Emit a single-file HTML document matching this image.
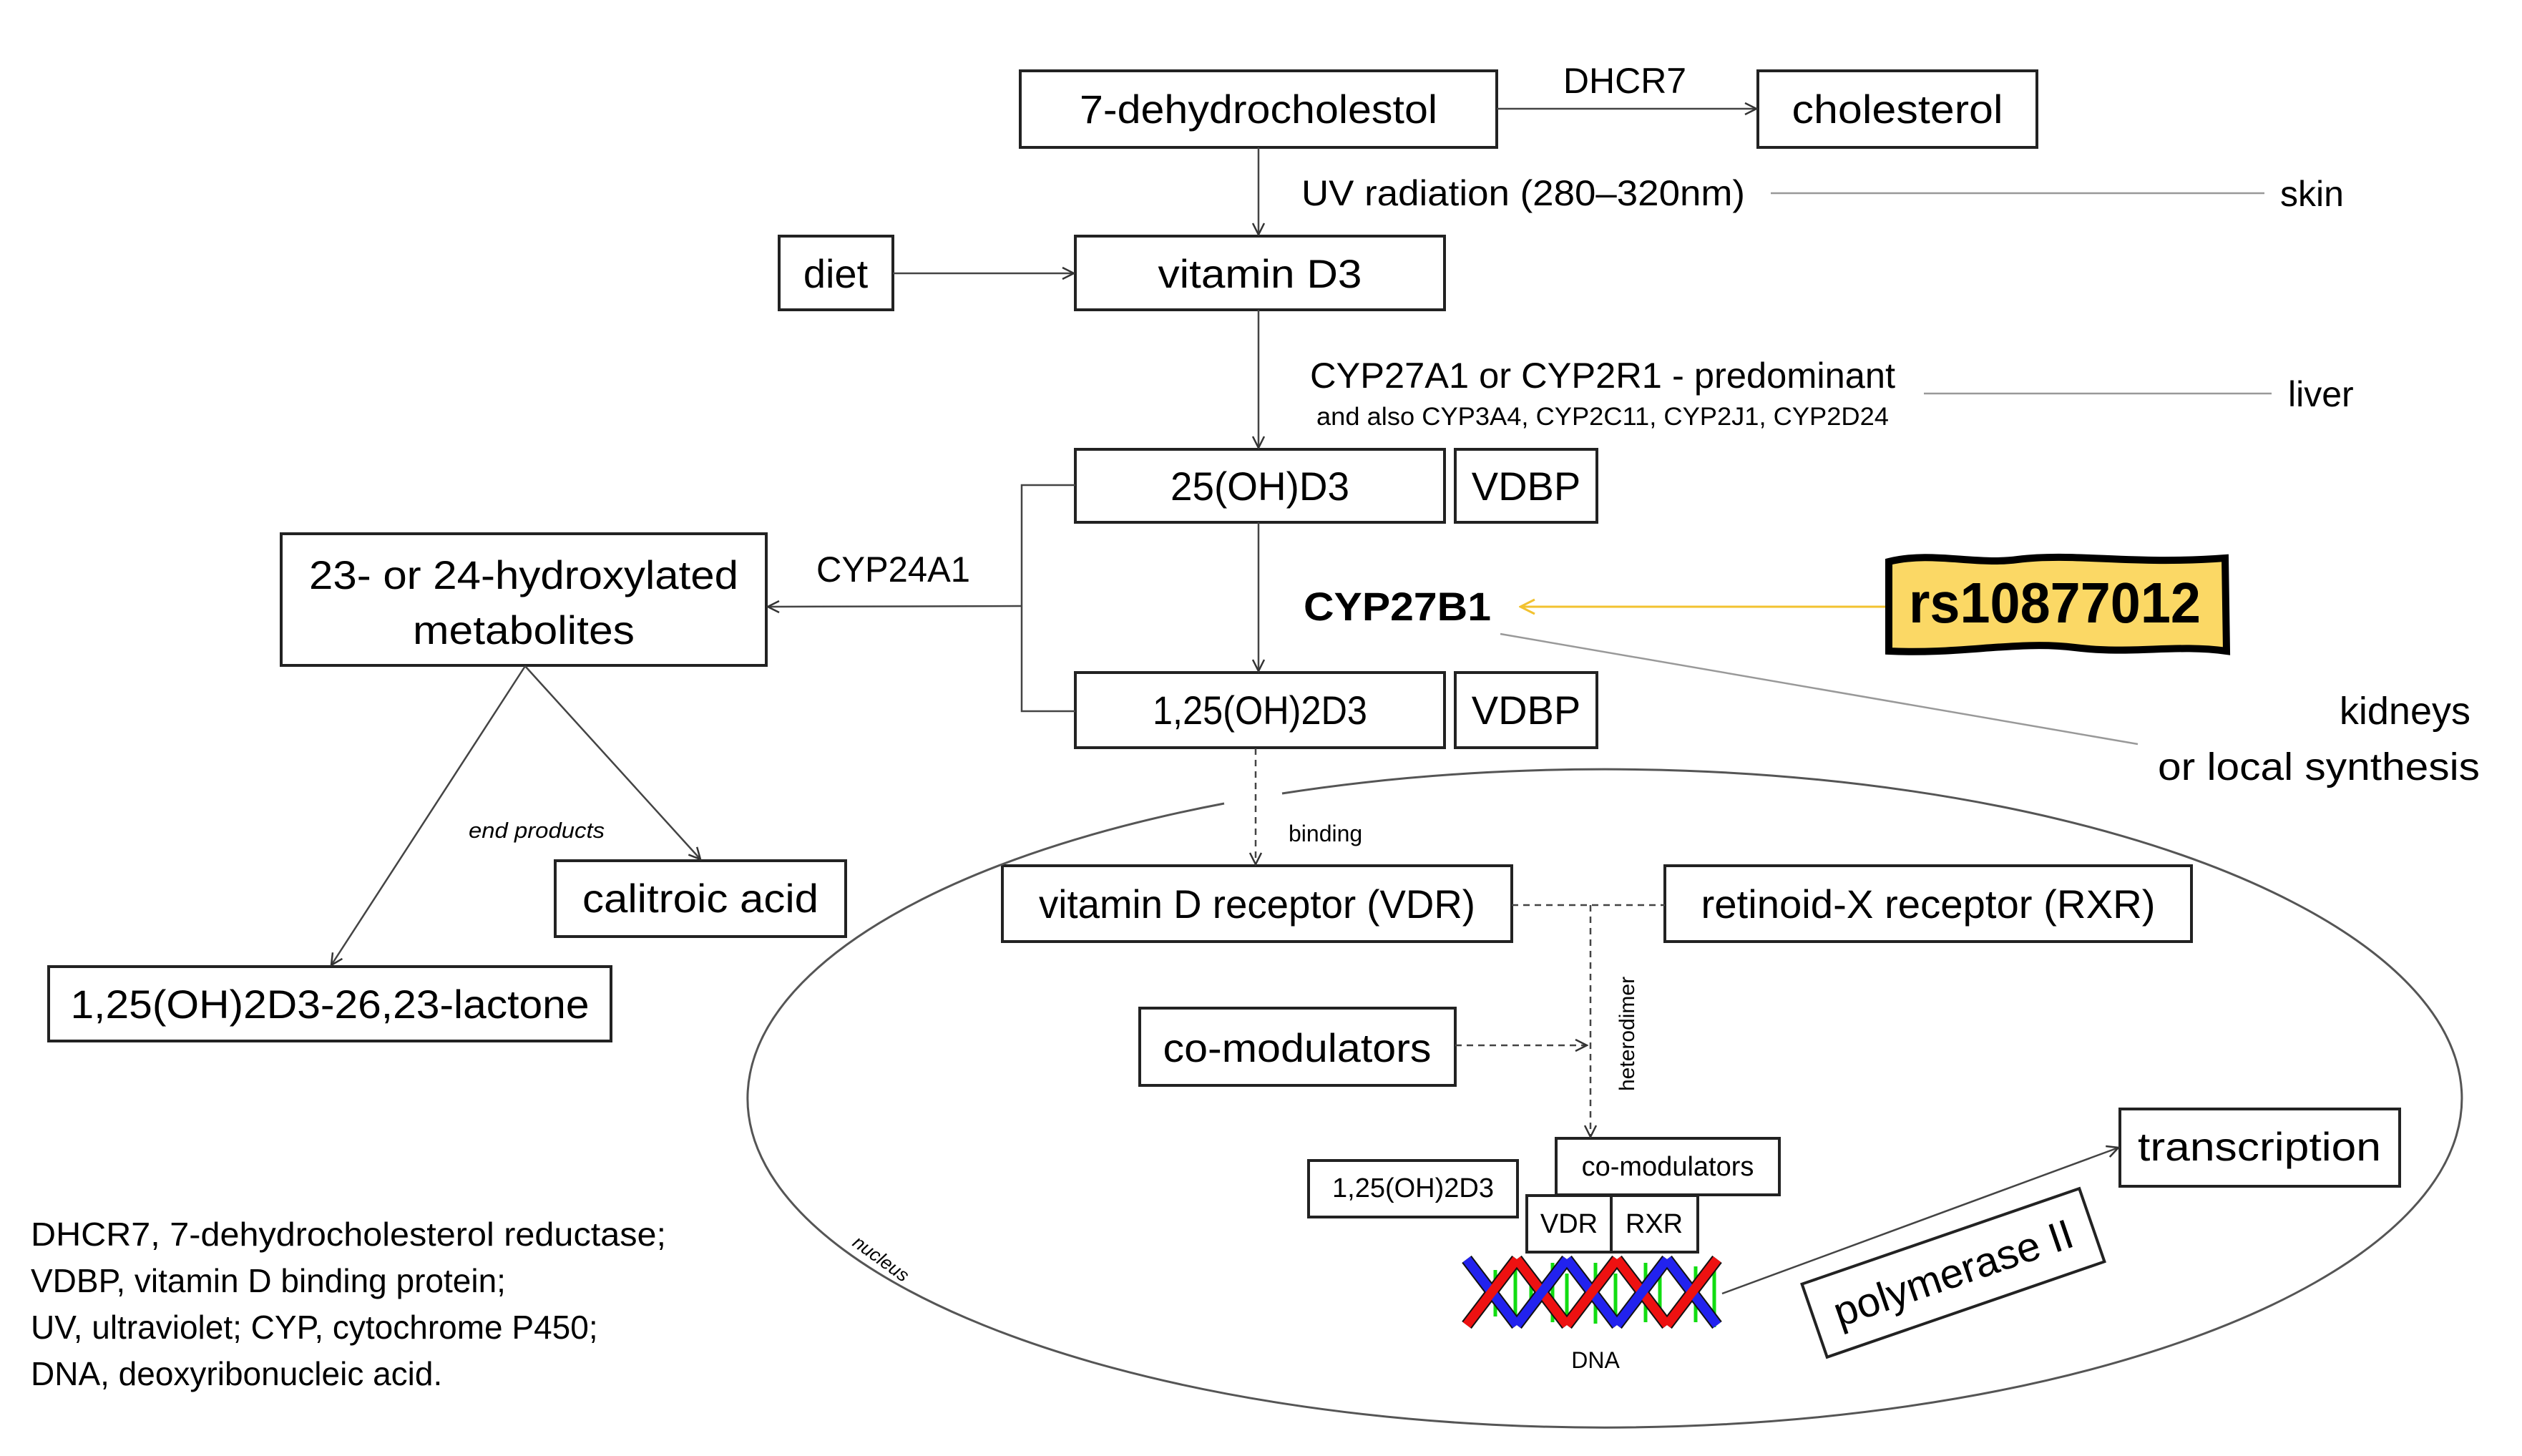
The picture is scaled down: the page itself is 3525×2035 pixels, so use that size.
<!DOCTYPE html>
<html><head><meta charset="utf-8"><style>
html,body{margin:0;padding:0;background:#fff;}
svg{display:block;}
text{font-family:"Liberation Sans",sans-serif;fill:#000;}
</style></head><body>
<svg width="3525" height="2035" viewBox="0 0 3525 2035" xmlns="http://www.w3.org/2000/svg">
<defs>
<marker id="ah" markerWidth="20" markerHeight="20" refX="18" refY="10" orient="auto" markerUnits="userSpaceOnUse">
<path d="M2,2 L18,10 L2,18" fill="none" stroke="#333" stroke-width="2.5"/></marker>
<marker id="ahy" markerWidth="24" markerHeight="24" refX="22" refY="12" orient="auto" markerUnits="userSpaceOnUse">
<path d="M2,2 L22,12 L2,22" fill="none" stroke="#f2c230" stroke-width="3"/></marker>
</defs>
<g fill="none" stroke="#222" stroke-width="4">
<rect x="1426" y="99" width="666" height="107"/>
<rect x="2457" y="99" width="390" height="107"/>
<rect x="1089" y="330" width="159" height="103"/>
<rect x="1503" y="330" width="516" height="103"/>
<rect x="1503" y="628" width="516" height="102"/>
<rect x="2034" y="628" width="198" height="102"/>
<rect x="1503" y="940" width="516" height="105"/>
<rect x="2034" y="940" width="198" height="105"/>
<rect x="393" y="746" width="678" height="184"/>
<rect x="776" y="1203" width="406" height="106"/>
<rect x="68" y="1351" width="786" height="104"/>
<rect x="1401" y="1210" width="712" height="106"/>
<rect x="2327" y="1210" width="736" height="106"/>
<rect x="1593" y="1409" width="441" height="108"/>
<rect x="2175" y="1591" width="312" height="79"/>
<rect x="1829" y="1622" width="292" height="79"/>
<rect x="2134" y="1671" width="118" height="79"/>
<rect x="2252" y="1671" width="121" height="79"/>
<rect x="2963" y="1550" width="391" height="108"/>
</g>
<g fill="none" stroke="#444" stroke-width="2.5">
<line x1="2092" y1="152" x2="2455" y2="152" marker-end="url(#ah)"/>
<line x1="1759" y1="206" x2="1759" y2="328" marker-end="url(#ah)"/>
<line x1="1248" y1="382" x2="1501" y2="382" marker-end="url(#ah)"/>
<line x1="1759" y1="433" x2="1759" y2="626" marker-end="url(#ah)"/>
<line x1="1759" y1="730" x2="1759" y2="938" marker-end="url(#ah)"/>
<polyline points="1503,678 1428,678 1428,994 1503,994"/>
<line x1="1428" y1="847" x2="1073" y2="848" marker-end="url(#ah)"/>
<line x1="734" y1="931" x2="979" y2="1201" marker-end="url(#ah)"/>
<line x1="734" y1="931" x2="463" y2="1349" marker-end="url(#ah)"/>
<line x1="2407" y1="1808" x2="2961" y2="1604" marker-end="url(#ah)"/>
</g>
<g fill="none" stroke="#999" stroke-width="2.5">
<line x1="2475" y1="270" x2="3165" y2="270"/>
<line x1="2689" y1="550" x2="3175" y2="550"/>
<line x1="2097" y1="886" x2="2988" y2="1040"/>
</g>
<line x1="2636" y1="848" x2="2125" y2="848" stroke="#f2c230" stroke-width="3" marker-end="url(#ahy)"/>
<g fill="none" stroke="#444" stroke-width="2.5" stroke-dasharray="9,7">
<line x1="1755" y1="1046" x2="1755" y2="1208" marker-end="url(#ah)"/>
<line x1="2113" y1="1265" x2="2327" y2="1265"/>
<line x1="2223" y1="1265" x2="2223" y2="1589" marker-end="url(#ah)"/>
<line x1="2034" y1="1461" x2="2218" y2="1461" marker-end="url(#ah)"/>
</g>
<path d="M1792,1109 A1198,460 0 1,1 1711,1123" fill="none" stroke="#555" stroke-width="3"/>
<path d="M2640,785 C2700,770 2760,790 2820,782 C2900,772 2980,790 3110,780 L3112,910 C3040,900 2980,915 2900,905 C2820,895 2740,915 2640,910 Z" fill="#fbd865" stroke="#000" stroke-width="10"/>
<text x="2872" y="870" font-size="80" font-weight="bold" text-anchor="middle" textLength="408" lengthAdjust="spacingAndGlyphs">rs10877012</text>
<g transform="translate(2730,1779) rotate(-19)">
<rect x="-205" y="-54" width="410" height="108" fill="none" stroke="#222" stroke-width="4"/>
<text x="0" y="20" font-size="58" text-anchor="middle" textLength="350" lengthAdjust="spacingAndGlyphs">polymerase II</text>
</g>
<g stroke-linecap="butt">
<g stroke="#11dd11" stroke-width="5">
<line x1="2090" y1="1775" x2="2090" y2="1840"/><line x1="2118" y1="1765" x2="2118" y2="1848"/><line x1="2140" y1="1780" x2="2140" y2="1835"/>
<line x1="2170" y1="1765" x2="2170" y2="1848"/><line x1="2190" y1="1780" x2="2190" y2="1840"/><line x1="2230" y1="1765" x2="2230" y2="1850"/>
<line x1="2258" y1="1780" x2="2258" y2="1840"/><line x1="2300" y1="1765" x2="2300" y2="1848"/><line x1="2320" y1="1780" x2="2320" y2="1840"/>
<line x1="2370" y1="1770" x2="2370" y2="1848"/><line x1="2396" y1="1760" x2="2396" y2="1855"/>
</g>
<g stroke="#111" stroke-width="17">
<path d="M2050,1760 L2120,1852 M2120,1760 L2190,1852 M2190,1760 L2260,1852 M2260,1760 L2330,1852 M2330,1760 L2400,1852"/>
<path d="M2050,1852 L2120,1760 M2120,1852 L2190,1760 M2190,1852 L2260,1760 M2260,1852 L2330,1760 M2330,1852 L2400,1760"/>
</g>
<g stroke-width="13">
<path stroke="#2222ee" d="M2050,1760 L2120,1852 M2190,1760 L2260,1852 M2330,1760 L2400,1852"/>
<path stroke="#ee1111" d="M2120,1760 L2190,1852 M2260,1760 L2330,1852"/>
<path stroke="#ee1111" d="M2050,1852 L2120,1760 M2190,1852 L2260,1760 M2330,1852 L2400,1760"/>
<path stroke="#2222ee" d="M2120,1852 L2190,1760 M2260,1852 L2330,1760"/>
</g>
</g>
<g font-size="56" text-anchor="middle">
<text x="1759" y="172" textLength="500" lengthAdjust="spacingAndGlyphs">7-dehydrocholestol</text>
<text x="2652" y="172" textLength="295" lengthAdjust="spacingAndGlyphs">cholesterol</text>
<text x="1168" y="402">diet</text>
<text x="1761" y="402" textLength="285" lengthAdjust="spacingAndGlyphs">vitamin D3</text>
<text x="1761" y="699" textLength="250" lengthAdjust="spacingAndGlyphs">25(OH)D3</text>
<text x="2133" y="699">VDBP</text>
<text x="1761" y="1012" textLength="300" lengthAdjust="spacingAndGlyphs">1,25(OH)2D3</text>
<text x="2133" y="1012">VDBP</text>
<text x="732" y="823" textLength="600" lengthAdjust="spacingAndGlyphs">23- or 24-hydroxylated</text>
<text x="732" y="900" textLength="310" lengthAdjust="spacingAndGlyphs">metabolites</text>
<text x="979" y="1275" textLength="330" lengthAdjust="spacingAndGlyphs">calitroic acid</text>
<text x="461" y="1423" textLength="725" lengthAdjust="spacingAndGlyphs">1,25(OH)2D3-26,23-lactone</text>
<text x="1757" y="1283" textLength="610" lengthAdjust="spacingAndGlyphs">vitamin D receptor (VDR)</text>
<text x="2695" y="1283" textLength="635" lengthAdjust="spacingAndGlyphs">retinoid-X receptor (RXR)</text>
<text x="1813" y="1484" textLength="375" lengthAdjust="spacingAndGlyphs">co-modulators</text>
<text x="3158" y="1622" textLength="340" lengthAdjust="spacingAndGlyphs">transcription</text>
</g>
<g font-size="50">
<text x="2271" y="130" text-anchor="middle">DHCR7</text>
<text x="1819" y="287" textLength="620" lengthAdjust="spacingAndGlyphs">UV radiation (280–320nm)</text>
<text x="3187" y="288">skin</text>
<text x="1831" y="542" textLength="818" lengthAdjust="spacingAndGlyphs">CYP27A1 or CYP2R1 - predominant</text>
<text x="3198" y="568">liver</text>
<text x="1141" y="813" textLength="215" lengthAdjust="spacingAndGlyphs">CYP24A1</text>
<text x="1822" y="867" font-size="56" font-weight="bold" textLength="262" lengthAdjust="spacingAndGlyphs">CYP27B1</text>
<text x="3453" y="1012" text-anchor="end" font-size="54">kidneys</text>
<text x="3466" y="1090" text-anchor="end" font-size="54" textLength="450" lengthAdjust="spacingAndGlyphs">or local synthesis</text>
</g>
<text x="1840" y="594" font-size="35" textLength="800" lengthAdjust="spacingAndGlyphs">and also CYP3A4, CYP2C11, CYP2J1, CYP2D24</text>
<text x="1801" y="1176" font-size="32">binding</text>
<text x="655" y="1171" font-size="31" font-style="italic" textLength="190" lengthAdjust="spacingAndGlyphs">end products</text>
<text transform="translate(2284,1525) rotate(-90)" font-size="30">heterodimer</text>
<text x="2331" y="1643" font-size="38" text-anchor="middle">co-modulators</text>
<text x="1975" y="1673" font-size="38" text-anchor="middle">1,25(OH)2D3</text>
<text x="2193" y="1723" font-size="38" text-anchor="middle">VDR</text>
<text x="2312" y="1723" font-size="38" text-anchor="middle">RXR</text>
<text x="2230" y="1912" font-size="32" text-anchor="middle">DNA</text>
<text transform="translate(1190,1740) rotate(36)" font-size="26" font-style="italic">nucleus</text>
<g font-size="46">
<text x="43" y="1741" textLength="888" lengthAdjust="spacingAndGlyphs">DHCR7, 7-dehydrocholesterol reductase;</text>
<text x="43" y="1806">VDBP, vitamin D binding protein;</text>
<text x="43" y="1871">UV, ultraviolet; CYP, cytochrome P450;</text>
<text x="43" y="1936">DNA, deoxyribonucleic acid.</text>
</g>
</svg>
</body></html>
